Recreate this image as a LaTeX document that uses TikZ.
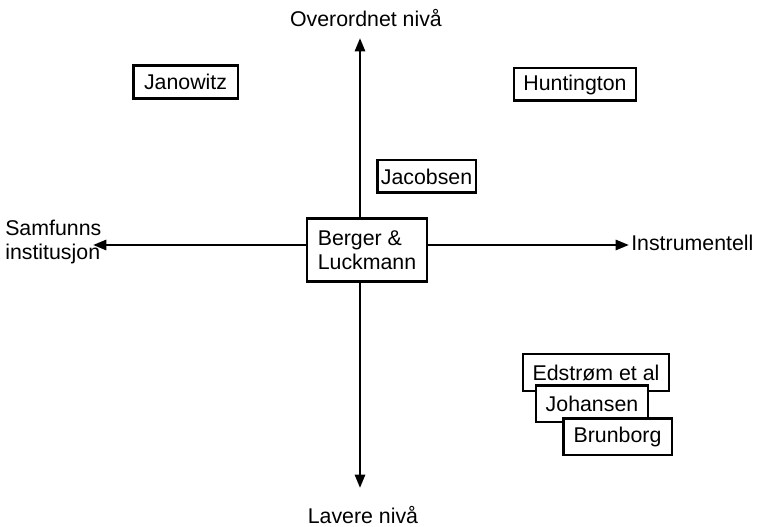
\documentclass[tikz,border=0pt]{standalone}
\usepackage{fontspec}
\setmainfont{Liberation Sans}
\usetikzlibrary{arrows.meta}

\begin{document}
\begin{tikzpicture}[x=0.75pt, y=-0.75pt,
    axis/.style={line width=2pt, -{Stealth[length=10pt, width=7.5pt, inset=0pt]}},
    namebox/.style={draw, line width=2pt, fill=white, inner sep=2pt, minimum height=24.5pt, font=\fontsize{16}{18}\selectfont},
    axislabel/.style={inner sep=0pt, font=\fontsize{16}{18}\selectfont}]
  \useasboundingbox (0,0) rectangle (757,527);

  % axes crossing point and end points
  \coordinate (o) at (360,245);
  \coordinate (top) at (360,38);
  \coordinate (bottom) at (360,488);
  \coordinate (left) at (93,245);
  \coordinate (right) at (629,245);

  \draw[axis] (o) -- (top);
  \draw[axis] (o) -- (bottom);
  \draw[axis] (o) -- (left);
  \draw[axis] (o) -- (right);

  % axis labels
  \node[axislabel] (over) at (366,18) {Overordnet nivå};
  \node[axislabel] (lavere) at (363,515) {Lavere nivå};
  \node[axislabel, anchor=west, align=left] (samf) at (5,242) {Samfunns\\institusjon};
  \node[axislabel, anchor=west] (instr) at (631,243) {Instrumentell};

  % authors
  \node[namebox, minimum width=90pt, minimum height=47pt, align=left] (berger) at (367,250) {Berger \&\\Luckmann};
  \node[namebox, minimum width=78.5pt] (janowitz) at (185.5,82) {Janowitz};
  \node[namebox, minimum width=91.5pt] (huntington) at (575,84.5) {Huntington};
  \node[namebox, minimum width=74pt] (jacobsen) at (426.5,176.5) {Jacobsen};

  % stacked boxes, later ones on top
  \node[namebox, minimum width=109.5pt, minimum height=27.5pt] (edstrom) at (596,372.5) {Edstrøm et al};
  \node[namebox, minimum width=84pt, minimum height=27.5pt] (johansen) at (592,403.5) {Johansen};
  \node[namebox, minimum width=81.5pt, minimum height=27.5pt] (brunborg) at (617.5,436.5) {Brunborg};
\end{tikzpicture}
\end{document}
